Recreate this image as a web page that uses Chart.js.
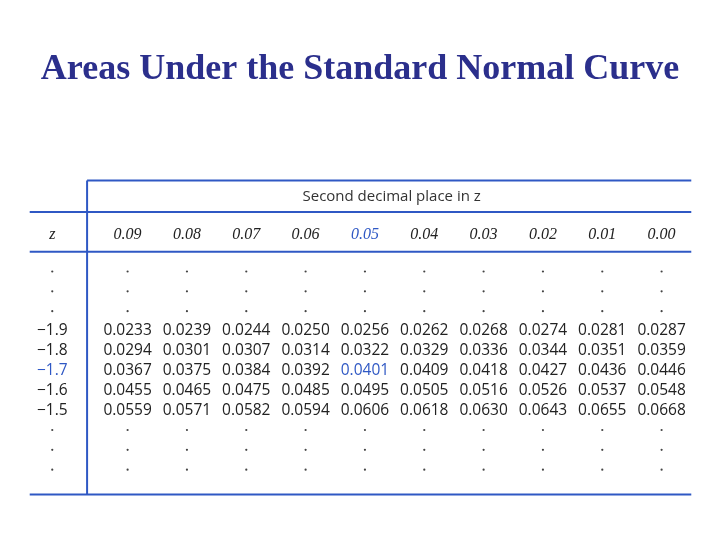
<!DOCTYPE html>
<html>
<head>
<meta charset="utf-8">
<script src="https://cdn.jsdelivr.net/npm/chart.js@4"></script>
<style>body{margin:0;background:#fff}</style>
</head>
<body>
<canvas id="tbl" width="720" height="540"></canvas>
<script>
// Table data
const colLabels = ['0.09', '0.08', '0.07', '0.06', '0.05', '0.04', '0.03', '0.02', '0.01', '0.00'];
const zLabels = ['\u22121.9', '\u22121.8', '\u22121.7', '\u22121.6', '\u22121.5'];
const areas = [
  [0.0233, 0.0239, 0.0244, 0.0250, 0.0256, 0.0262, 0.0268, 0.0274, 0.0281, 0.0287],
  [0.0294, 0.0301, 0.0307, 0.0314, 0.0322, 0.0329, 0.0336, 0.0344, 0.0351, 0.0359],
  [0.0367, 0.0375, 0.0384, 0.0392, 0.0401, 0.0409, 0.0418, 0.0427, 0.0436, 0.0446],
  [0.0455, 0.0465, 0.0475, 0.0485, 0.0495, 0.0505, 0.0516, 0.0526, 0.0537, 0.0548],
  [0.0559, 0.0571, 0.0582, 0.0594, 0.0606, 0.0618, 0.0630, 0.0643, 0.0655, 0.0668]
];
const highlightCol = '0.05';
const highlightRow = '\u22121.7';

const blue = '#2f58c4';
const zCol = -0.27;
const dotRowsTop = [1, 2, 3];
const dotRowsBottom = [9, 10, 11];

// cells as points: x = column index, y = row index
const cells = [];
areas.forEach((row, r) => row.forEach((v, c) => cells.push({ x: c + 1, y: r + 4, t: v.toFixed(4), hi: colLabels[c] === highlightCol && zLabels[r] === highlightRow })));
zLabels.forEach((z, r) => cells.push({ x: zCol, y: r + 4, t: z, hi: z === highlightRow }));
const header = colLabels.map((c, i) => ({ x: i + 1, y: -0.85, t: c, hi: c === highlightCol }));
header.push({ x: zCol, y: -0.85, t: 'z', hi: false });
const dots = [];
dotRowsTop.concat(dotRowsBottom).forEach(r => {
  dots.push({ x: zCol, y: r });
  colLabels.forEach((c, i) => dots.push({ x: i + 1, y: r }));
});

const tablePlugin = {
  id: 'tablePlugin',
  afterDatasetsDraw(chart) {
    const { ctx, scales: { x, y } } = chart;
    ctx.save();
    ctx.strokeStyle = blue;
    ctx.lineWidth = 2;
    const hline = (r, x0, x1) => { ctx.beginPath(); ctx.moveTo(x.getPixelForValue(x0), y.getPixelForValue(r)); ctx.lineTo(x.getPixelForValue(x1), y.getPixelForValue(r)); ctx.stroke(); };
    hline(-3.6, 0.317, 10.5);
    hline(-2.0, -0.65, 10.5);
    hline(0.0, -0.65, 10.5);
    hline(12.25, -0.65, 10.5);
    ctx.beginPath();
    ctx.moveTo(x.getPixelForValue(0.317), y.getPixelForValue(-3.6));
    ctx.lineTo(x.getPixelForValue(0.317), y.getPixelForValue(12.25));
    ctx.stroke();

    ctx.textAlign = 'center';
    ctx.textBaseline = 'middle';
    ctx.fillStyle = '#333';
    ctx.font = '15px "Open Sans"';
    ctx.fillText('Second decimal place in z', x.getPixelForValue(5.45), y.getPixelForValue(-2.8));

    chart.data.datasets.forEach(ds => {
      if (!ds.text) return;
      ctx.font = ds.font;
      ds.data.forEach(p => {
        ctx.fillStyle = p.hi ? blue : '#222';
        ctx.fillText(p.t, x.getPixelForValue(p.x), y.getPixelForValue(p.y));
      });
    });
    ctx.restore();
  }
};

new Chart(document.getElementById('tbl'), {
  type: 'scatter',
  data: {
    datasets: [
      { data: cells, text: true, font: '15.5px "Open Sans"', pointRadius: 0 },
      { data: header, text: true, font: 'italic 16px "Liberation Serif"', pointRadius: 0 },
      { data: dots, pointRadius: 1.1, backgroundColor: '#444', borderWidth: 0 }
    ]
  },
  options: {
    responsive: false,
    animation: false,
    layout: { padding: 0 },
    plugins: {
      legend: { display: false },
      tooltip: { enabled: false },
      title: {
        display: true,
        text: 'Areas Under the Standard Normal Curve',
        color: '#2b2f8c',
        font: { family: '"Liberation Serif"', size: 36, weight: 'bold' },
        padding: { top: 48, bottom: 25 }
      }
    },
    scales: {
      x: { display: false, min: 1 - 125 / 60, max: 1 + 595 / 60 },
      y: { display: false, reverse: true, min: -6.84, max: 14.35 }
    }
  },
  plugins: [tablePlugin]
});
</script>
</body>
</html>
